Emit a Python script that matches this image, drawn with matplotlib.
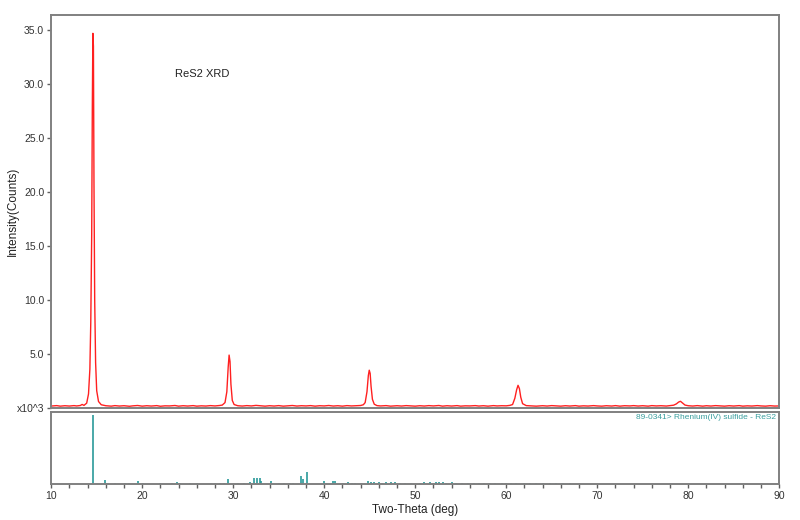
import numpy as np
import matplotlib
matplotlib.use("Agg")
from matplotlib import pyplot as plt

plt.rcParams.update({
    "font.family": ["Liberation Sans", "DejaVu Sans"],
    "font.size": 7.5,
    "axes.edgecolor": "#808080",
    "axes.linewidth": 1.4,
    "xtick.color": "#606060",
    "ytick.color": "#606060",
    "xtick.labelcolor": "#333333",
    "ytick.labelcolor": "#333333",
})

# measured pattern, counts in units of 10^3
two_theta = [10.0, 10.6, 11.0, 11.5, 12.0, 12.5, 12.8, 13.2, 13.4, 13.6, 13.9,
             14.1, 14.25, 14.35, 14.45, 14.52, 14.58, 14.64, 14.70, 14.78, 14.88,
             15.0, 15.2, 15.5, 16.0, 16.6, 17.0, 17.5, 18.0, 18.6, 19.0, 19.5,
             20.0, 20.5, 21.0, 21.6, 22.0, 22.5, 23.0, 23.6, 24.0, 24.5, 25.0,
             25.6, 26.0, 26.5, 27.0, 27.5, 28.0, 28.5, 28.8, 29.1, 29.3, 29.45,
             29.55, 29.65, 29.75, 29.9, 30.1, 30.5, 31.0, 31.5, 32.0, 32.5, 33.0,
             33.5, 34.0, 34.5, 35.0, 35.5, 36.0, 36.5, 37.0, 37.5, 38.0, 38.5,
             39.0, 39.5, 40.0, 40.5, 41.0, 41.5, 42.0, 42.5, 43.0, 43.5, 44.0,
             44.3, 44.5, 44.7, 44.85, 44.95, 45.05, 45.15, 45.3, 45.5, 45.8,
             46.2, 46.8, 47.3, 48.0, 48.5, 49.0, 49.6, 50.0, 50.5, 51.0, 51.5,
             52.0, 52.6, 53.0, 53.5, 54.0, 54.6, 55.0, 55.5, 56.0, 56.6, 57.0,
             57.5, 58.0, 58.6, 59.0, 59.5, 60.0, 60.4, 60.7, 60.95, 61.15, 61.3,
             61.45, 61.6, 61.8, 62.2, 62.8, 63.3, 64.0, 64.5, 65.0, 65.6, 66.0,
             66.5, 67.0, 67.6, 68.0, 68.5, 69.0, 69.6, 70.0, 70.5, 71.0, 71.6,
             72.0, 72.5, 73.0, 73.6, 74.0, 74.5, 75.0, 75.6, 76.0, 76.5, 77.0,
             77.6, 78.0, 78.4, 78.7, 78.95, 79.15, 79.4, 79.65, 80.0, 80.5, 81.0,
             81.6, 82.0, 82.5, 83.0, 83.6, 84.0, 84.5, 85.0, 85.6, 86.0, 86.5,
             87.0, 87.6, 88.0, 88.5, 89.0, 89.5, 90.0]
counts = [0.18, 0.22, 0.17, 0.21, 0.18, 0.22, 0.19, 0.23, 0.33, 0.24, 0.45,
          1.3, 3.6, 8.0, 16.0, 28.0, 34.7, 33.5, 21.0, 10.0, 4.2,
          1.6, 0.6, 0.3, 0.21, 0.17, 0.22, 0.18, 0.21, 0.16, 0.20, 0.23,
          0.17, 0.21, 0.18, 0.22, 0.16, 0.20, 0.19, 0.23, 0.17, 0.21, 0.18,
          0.22, 0.17, 0.20, 0.18, 0.22, 0.19, 0.23, 0.27, 0.5, 1.5, 3.8,
          4.9, 4.3, 2.2, 0.7, 0.32, 0.21, 0.18, 0.22, 0.19, 0.24, 0.20,
          0.17, 0.21, 0.18, 0.22, 0.17, 0.20, 0.23, 0.18, 0.21, 0.19, 0.22,
          0.17, 0.21, 0.19, 0.23, 0.18, 0.21, 0.17, 0.22, 0.19, 0.21, 0.23,
          0.3, 0.5, 1.5, 3.0, 3.5, 3.2, 2.0, 0.8, 0.35, 0.22,
          0.19, 0.22, 0.17, 0.21, 0.18, 0.22, 0.19, 0.17, 0.21, 0.18, 0.22,
          0.19, 0.23, 0.17, 0.21, 0.18, 0.22, 0.17, 0.20, 0.19, 0.22, 0.18,
          0.21, 0.17, 0.22, 0.19, 0.21, 0.20, 0.24, 0.32, 0.9, 1.7, 2.1,
          1.8, 1.0, 0.4, 0.22, 0.19, 0.17, 0.21, 0.18, 0.22, 0.19, 0.17,
          0.21, 0.18, 0.22, 0.17, 0.20, 0.18, 0.22, 0.19, 0.17, 0.21, 0.18,
          0.22, 0.17, 0.21, 0.19, 0.22, 0.18, 0.21, 0.17, 0.22, 0.19, 0.21,
          0.18, 0.22, 0.26, 0.38, 0.55, 0.62, 0.45, 0.27, 0.21, 0.18, 0.22,
          0.17, 0.21, 0.18, 0.22, 0.19, 0.17, 0.21, 0.18, 0.22, 0.17, 0.20,
          0.18, 0.22, 0.19, 0.17, 0.21, 0.18, 0.19]

# reference card 89-0341, relative intensity (%)
ref_pos = [14.55, 15.9, 16.2, 17.0, 18.1, 18.6, 19.5, 20.1, 22.0, 23.3, 23.8,
           24.1, 25.2, 26.0, 27.6, 28.0, 28.5, 29.0, 29.4, 30.5, 31.2, 31.8,
           32.3, 32.6, 32.9, 33.1, 34.1, 35.0, 35.6, 36.2, 36.6, 37.5, 37.7,
           38.1, 40.0, 40.2, 41.0, 41.2, 42.1, 42.6, 43.0, 43.4, 44.0, 44.8,
           45.1, 45.5, 46.0, 46.3, 46.8, 47.3, 47.8, 48.3, 48.9, 49.5, 50.5,
           51.0, 51.6, 52.3, 52.6, 53.0, 53.4, 54.0, 54.5, 55.1, 55.8, 56.5,
           57.0, 57.6, 58.2, 58.8, 59.5, 60.0, 60.5, 61.1, 62.0, 62.6, 63.3,
           64.0, 64.8, 65.5, 66.2, 67.0]
ref_int = [100, 6, 2, 2, 1.5, 2, 5, 2, 1.5, 2, 2.5,
           1.5, 1.5, 1.5, 1.5, 2, 2, 2, 7, 2, 1.5, 3,
           9, 9, 8, 5, 5, 1.5, 1.5, 2, 2, 11, 7,
           17, 4, 2, 4, 5, 2, 2.5, 2, 2, 2, 4,
           3, 3, 3, 2, 3, 2.5, 3, 2, 2, 2, 2,
           3, 2.5, 3.5, 3, 3, 2, 2.5, 2, 2, 1.5, 1.5,
           2, 2, 2, 2, 2, 2, 1.5, 2, 2, 1.5, 1.5,
           1.5, 1.5, 1.5, 1.5, 1.5]

y_ticks = [0, 5, 10, 15, 20, 25, 30, 35]
y_ticklabels = ["x10^3", "5.0", "10.0", "15.0", "20.0", "25.0", "30.0", "35.0"]

fig = plt.figure(figsize=(8, 5.2), dpi=100)
ax1 = fig.add_axes([0.064, 0.2154, 0.910, 0.7558])
ax2 = fig.add_axes([0.064, 0.0692, 0.910, 0.1385])

ax1.plot(two_theta, counts, color="#ff2020", lw=1.0)
ax1.set_xlim(10, 90)
ax1.set_ylim(0, 36.4)
ax1.set_xticks([])
ax1.set_yticks(y_ticks)
ax1.set_yticklabels(y_ticklabels)
ax1.tick_params(axis="y", length=3, width=1, pad=2)
ax1.set_ylabel("Intensity(Counts)", fontsize=8.5, color="#222222")
ax1.yaxis.set_label_coords(-0.044, 0.5)
ax1.text(23.6, 30.9, "ReS2 XRD", fontsize=8, color="#222222", va="center")

ax2.vlines(ref_pos, 0, ref_int, color="#2a9a9a", lw=1.2)
ax2.set_xlim(10, 90)
ax2.set_ylim(0, 104)
ax2.set_yticks([])
ax2.set_xticks(range(10, 91, 10))
ax2.set_xticks(range(10, 91, 2), minor=True)
ax2.tick_params(axis="x", which="both", length=3, width=1, pad=2)
ax2.set_xlabel("Two-Theta (deg)", fontsize=8.5, color="#222222", labelpad=2)
ax2.text(0.995, 0.97, "89-0341> Rhenium(IV) sulfide - ReS2", transform=ax2.transAxes,
         ha="right", va="top", fontsize=6, color="#3a9e9e")

fig.savefig("out.png", dpi=100)
